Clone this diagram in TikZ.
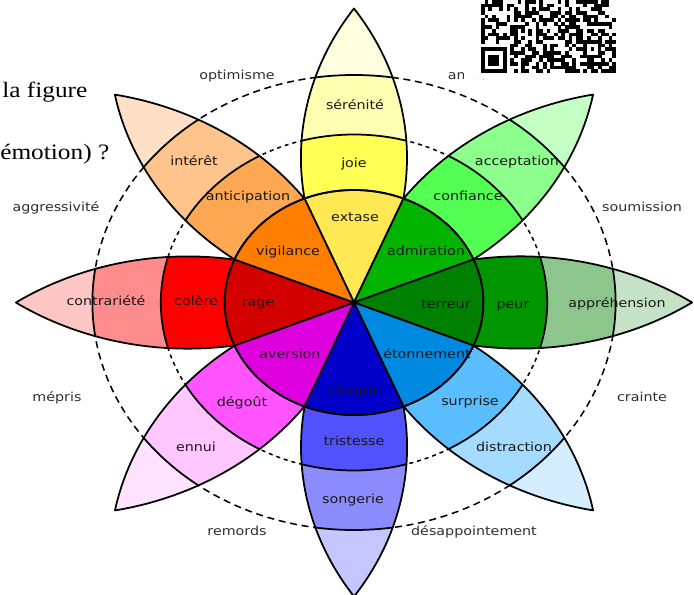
\documentclass[tikz,border=0pt]{standalone}
\usepackage{fontspec}
\usepackage{xcolor}
\usepackage{tikz}
\usetikzlibrary{calc}
\newfontfamily\roue{DejaVu Sans}
\newfontfamily\texte{Liberation Serif}
% couleurs des emotions (intense / base / attenuee / pointe)
\definecolor{extase}{HTML}{FFE854}
\definecolor{joie}{HTML}{FFFF54}
\definecolor{serenite}{HTML}{FFFFB1}
\definecolor{jauneP}{HTML}{FFFFDF}
\definecolor{admiration}{HTML}{00B400}
\definecolor{confiance}{HTML}{54FF54}
\definecolor{acceptation}{HTML}{8CFF8C}
\definecolor{vertP}{HTML}{C4FFC4}
\definecolor{terreur}{HTML}{008000}
\definecolor{peur}{HTML}{009600}
\definecolor{apprehension}{HTML}{8CC68C}
\definecolor{vertfP}{HTML}{C6E2C6}
\definecolor{etonnement}{HTML}{0089E0}
\definecolor{surprise}{HTML}{59BDFF}
\definecolor{distraction}{HTML}{A5DBFF}
\definecolor{bleuP}{HTML}{D4EDFF}
\definecolor{chagrin}{HTML}{0000C8}
\definecolor{tristesse}{HTML}{5151FF}
\definecolor{songerie}{HTML}{8C8CFF}
\definecolor{indigoP}{HTML}{C6C6FF}
\definecolor{aversion}{HTML}{DE00DE}
\definecolor{degout}{HTML}{FF54FF}
\definecolor{ennui}{HTML}{FFC6FF}
\definecolor{violetP}{HTML}{FFE2FF}
\definecolor{rage}{HTML}{D40000}
\definecolor{colere}{HTML}{FF0000}
\definecolor{contrariete}{HTML}{FF8C8C}
\definecolor{rougeP}{HTML}{FFC6C6}
\definecolor{vigilance}{HTML}{FF7D00}
\definecolor{anticipation}{HTML}{FFA854}
\definecolor{interet}{HTML}{FFC48C}
\definecolor{orangeP}{HTML}{FFE0C6}
\tikzstyle{contour}=[line width=1.5pt, line join=round]
\tikzstyle{pointille}=[line width=1.3pt, dash pattern=on 6pt off 4pt]
\tikzstyle{pointilleB}=[line width=1.3pt, dash pattern=on 3.4pt off 3.4pt]
\tikzstyle{emo}=[font=\roue\fontsize{10.6}{12}\selectfont, text=black!90, xscale=1.15, inner sep=0pt, anchor=base]
\tikzstyle{dyade}=[emo, text=black!82]
\tikzstyle{phrase}=[font=\texte\fontsize{18.8}{20}\selectfont, xscale=1.15, inner sep=0pt, anchor=base west]
% un petale, axe vertical, pointe en haut
\newcommand{\petalpath}{(0,0) -- (40.3,89.7) arc[start angle=-12, end angle=34.33, radius=264.7] arc[start angle=145.67, end angle=192, radius=264.7] -- cycle}

\begin{document}
\begin{tikzpicture}[x=0.03cm, y=-0.03cm]
\useasboundingbox (0,0) rectangle (694,595);

% roue de Plutchik
\begin{scope}[shift={(354,302.5)}, xscale=1.15, yscale=-1]
\draw[pointille] (0,0) circle (227.5);
\draw[pointilleB] (0,0) circle (168);
\foreach \a/\cb/\cm/\ct in {90/joie/serenite/jauneP, 45/confiance/acceptation/vertP,
  0/peur/apprehension/vertfP, -45/surprise/distraction/bleuP,
  -90/tristesse/songerie/indigoP, -135/degout/ennui/violetP,
  180/colere/contrariete/rougeP, 135/anticipation/interet/orangeP}
{
  \begin{scope}[rotate=90-\a]
    \begin{scope}
      \clip \petalpath;
      \fill[\ct] \petalpath;
      \fill[\cm] (0,0) circle (227.5);
      \fill[\cb] (0,0) circle (168);
      \draw[contour] (0,0) circle (227.5) (0,0) circle (168);
    \end{scope}
    \draw[contour] \petalpath;
  \end{scope}
}
% coeur : emotions intenses
\foreach \a/\ci in {90/extase, 45/admiration, 0/terreur, -45/etonnement,
  -90/chagrin, -135/aversion, 180/rage, 135/vigilance}
{
  \filldraw[contour, fill=\ci, rotate=90-\a] (0,0) -- (67.5:112.5) arc[start angle=67.5, end angle=112.5, radius=112.5] -- cycle;
}
\draw[contour] (0,0) circle (112.5);
\end{scope}

% noms des emotions
\path (355,110) node[emo] (n-serenite) {sérénité};
\path (354,168) node[emo] (n-joie) {joie};
\path (355,222) node[emo] (n-extase) {extase};
\path (517,166) node[emo] (n-acceptation) {acceptation};
\path (468,201) node[emo] (n-confiance) {confiance};
\path (426,256) node[emo] (n-admiration) {admiration};
\path (617,308) node[emo] (n-apprehension) {appréhension};
\path (513,309) node[emo] (n-peur) {peur};
\path (446,309) node[emo] (n-terreur) {terreur};
\path (514,451) node[emo] (n-distraction) {distraction};
\path (470,405) node[emo] (n-surprise) {surprise};
\path (427,358) node[emo] (n-etonnement) {étonnement};
\path (353,503) node[emo] (n-songerie) {songerie};
\path (354,445) node[emo] (n-tristesse) {tristesse};
\path (355,395) node[emo] (n-chagrin) {chagrin};
\path (196,451) node[emo] (n-ennui) {ennui};
\path (242,406) node[emo] (n-degout) {dégoût};
\path (290,358) node[emo] (n-aversion) {aversion};
\path (106,306) node[emo] (n-contrariete) {contrariété};
\path (196,306) node[emo] (n-colere) {colère};
\path (258,307) node[emo] (n-rage) {rage};
\path (194,166) node[emo] (n-interet) {intérêt};
\path (248,201) node[emo] (n-anticipation) {anticipation};
\path (288,256) node[emo] (n-vigilance) {vigilance};

% dyades
\path (237,80) node[dyade] (d-optimisme) {optimisme};
\path (471,80) node[dyade] (d-amour) {amour};
\path (642,212) node[dyade] (d-soumission) {soumission};
\path (642,401) node[dyade] (d-crainte) {crainte};
\path (474,535) node[dyade] (d-desappointement) {désappointement};
\path (237,535) node[dyade] (d-remords) {remords};
\path (57,401) node[dyade] (d-mepris) {mépris};
\path (56,212) node[dyade] (d-agressivite) {aggressivité};

% bouts de texte de la page
\path (2,98) node[phrase] (t-figure) {la figure};
\path (0,160) node[phrase] (t-emotion) {émotion) ?};

% code QR (partie visible)
\fill[white] (464,0) rectangle (640,79);
\pgfmathsetseed{4242}
\foreach \c in {0,...,36}
  \foreach \r in {0,...,20}
  {
    \pgfmathsetmacro\tirage{rnd}
    \ifdim\tirage pt<0.5pt \fill (481+\c*3.65,73-\r*3.65) rectangle ++(3.7,-3.7); \fi
  }
\fill[white] (481,73) rectangle ++(8*3.65,-8*3.65);
\fill (481,73) rectangle ++(7*3.65,-7*3.65);
\fill[white] (481+3.65,73-3.65) rectangle ++(5*3.65,-5*3.65);
\fill (481+2*3.65,73-2*3.65) rectangle ++(3*3.65,-3*3.65);
\fill (481+28*3.65,73-4*3.65) rectangle ++(5*3.65,-5*3.65);
\fill[white] (481+29*3.65,73-5*3.65) rectangle ++(3*3.65,-3*3.65);
\fill (481+30*3.65,73-6*3.65) rectangle ++(3.65,-3.65);
\end{tikzpicture}
\end{document}
